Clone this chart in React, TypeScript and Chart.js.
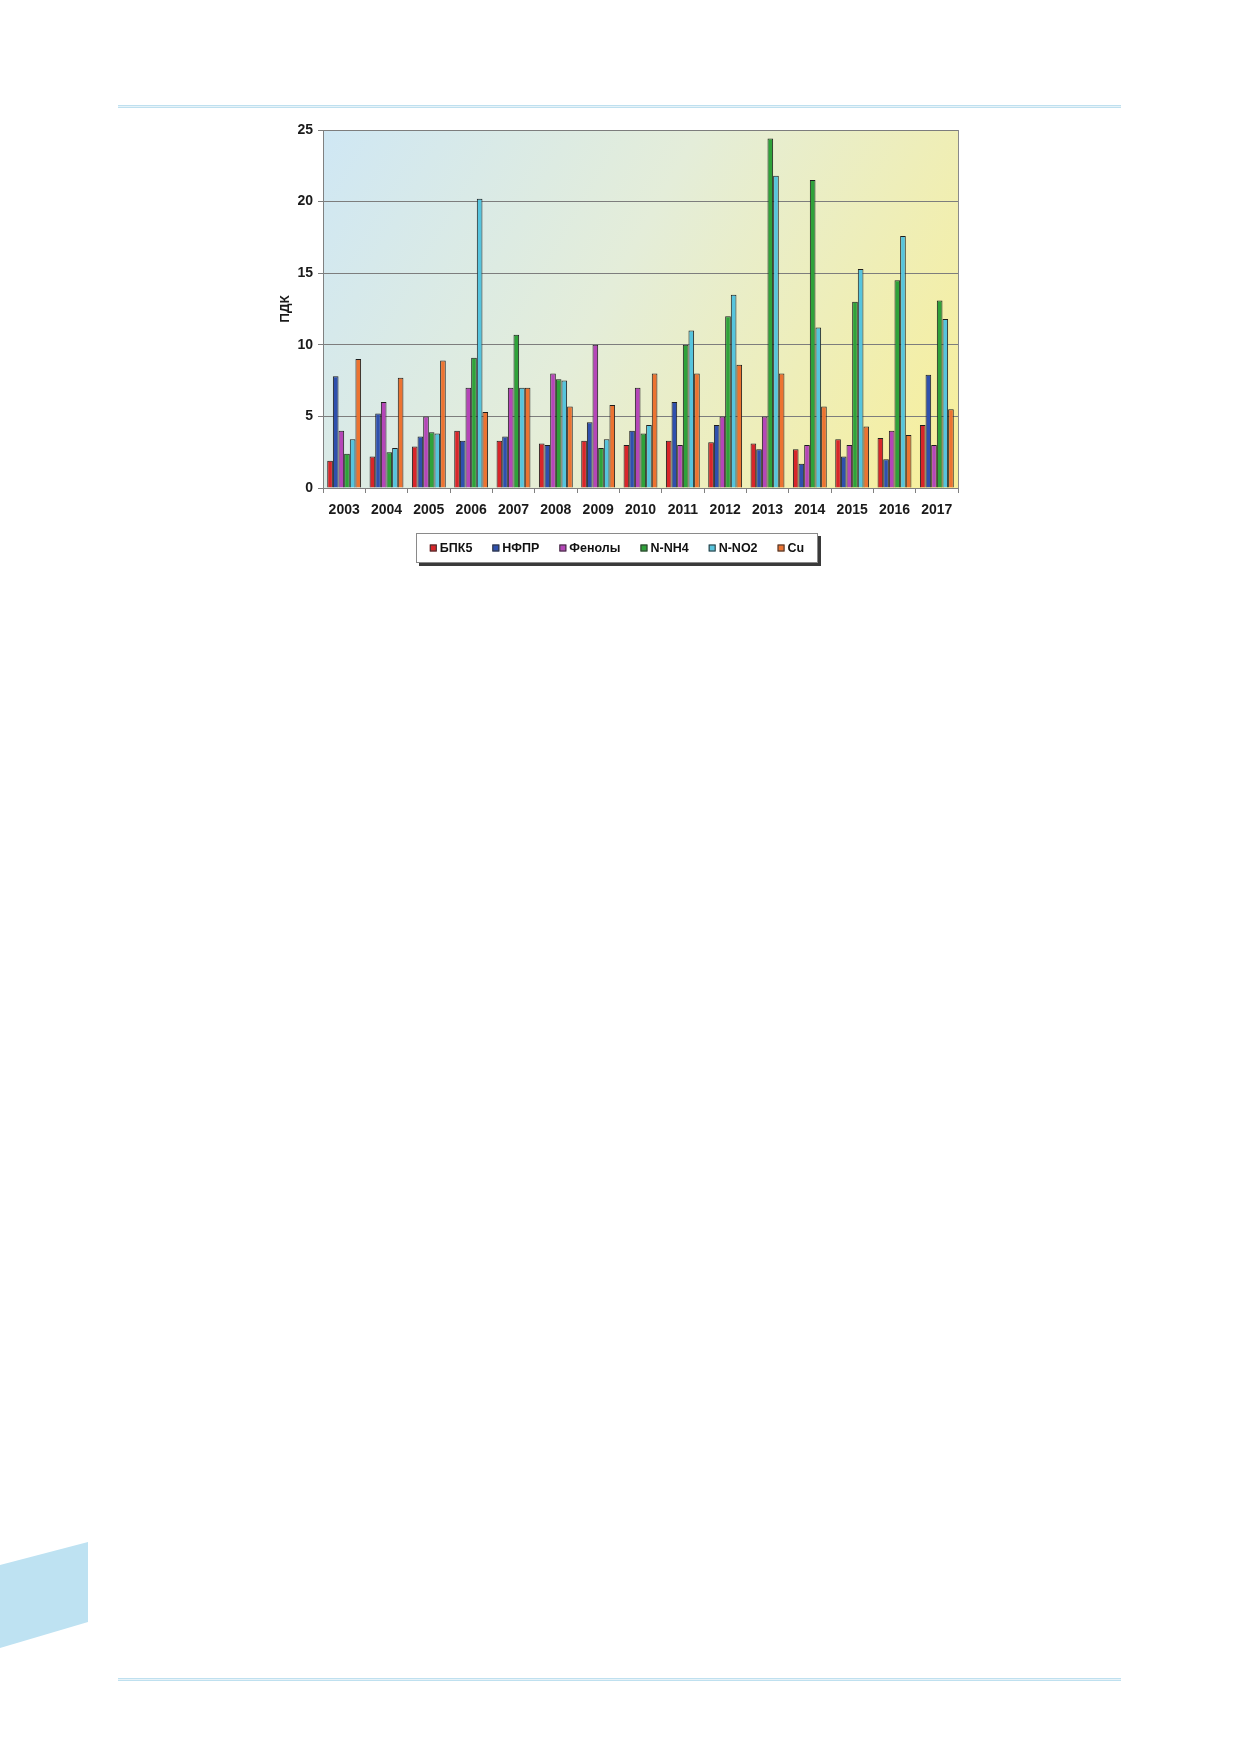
import React, { useEffect, useRef } from "react";
import { Chart, registerables } from "chart.js";

Chart.register(...registerables);

const categories = ["2003", "2004", "2005", "2006", "2007", "2008", "2009", "2010", "2011", "2012", "2013", "2014", "2015", "2016", "2017"];
const seriesNames = ["БПК5", "НФПР", "Фенолы", "N-NH4", "N-NO2", "Cu"];
const bpk5 = [1.9, 2.2, 2.9, 4.0, 3.3, 3.1, 3.3, 3.0, 3.3, 3.2, 3.1, 2.7, 3.4, 3.5, 4.4];
const nfpr = [7.8, 5.2, 3.6, 3.3, 3.6, 3.0, 4.6, 4.0, 6.0, 4.4, 2.7, 1.7, 2.2, 2.0, 7.9];
const phenols = [4.0, 6.0, 5.0, 7.0, 7.0, 8.0, 10.0, 7.0, 3.0, 5.0, 5.0, 3.0, 3.0, 4.0, 3.0];
const nnh4 = [2.4, 2.5, 3.9, 9.1, 10.7, 7.6, 2.8, 3.8, 10.0, 12.0, 24.4, 21.5, 13.0, 14.5, 13.1];
const nno2 = [3.4, 2.8, 3.8, 20.2, 7.0, 7.5, 3.4, 4.4, 11.0, 13.5, 21.8, 11.2, 15.3, 17.6, 11.8];
const cu = [9.0, 7.7, 8.9, 5.3, 7.0, 5.7, 5.8, 8.0, 8.0, 8.6, 8.0, 5.7, 4.3, 3.7, 5.5];
const yAxisTitle = "ПДК";
const yMin = 0;
const yMax = 25;
const yStep = 5;

const seriesValues = [bpk5, nfpr, phenols, nnh4, nno2, cu];
const seriesColors = ["#d8262a", "#2f50ad", "#b546b8", "#2fa23a", "#56c4dd", "#ec7331"];

const FONT = '"Liberation Sans", Arial, sans-serif';

const plotBackground = {
  id: "plotBackground",
  beforeDraw(chart: any) {
    const { ctx, chartArea } = chart;
    const { left, top, right, bottom } = chartArea;
    ctx.save();
    const g = ctx.createLinearGradient(left, top, right, bottom);
    g.addColorStop(0, "#cfe7f4");
    g.addColorStop(0.45, "#e4edd9");
    g.addColorStop(1, "#f8ef9a");
    ctx.fillStyle = g;
    ctx.fillRect(left, top, right - left, bottom - top);
    ctx.strokeStyle = "#8a8a8a";
    ctx.lineWidth = 1;
    ctx.strokeRect(Math.round(left) + 0.5, Math.round(top) + 0.5, Math.round(right - left), Math.round(bottom - top));
    ctx.restore();
  },
};

const boxLegend = {
  id: "boxLegend",
  afterDraw(chart: any) {
    const { ctx } = chart;
    const boxL = 416, boxT = 533, boxW = 402, boxH = 30;
    ctx.save();
    ctx.fillStyle = "#3a3a3a";
    ctx.fillRect(boxL + 3, boxT + 3, boxW, boxH);
    ctx.fillStyle = "#ffffff";
    ctx.fillRect(boxL, boxT, boxW, boxH);
    ctx.strokeStyle = "#8a8a8a";
    ctx.lineWidth = 1;
    ctx.strokeRect(boxL + 0.5, boxT + 0.5, boxW - 1, boxH - 1);
    ctx.font = `bold 12.5px ${FONT}`;
    ctx.textBaseline = "middle";
    const marker = 7, gapM = 3, gapItem = 20;
    const widths = chart.data.datasets.map((d: any) => ctx.measureText(d.label).width);
    const total = widths.reduce((a: number, w: number) => a + marker + gapM + w, 0) + gapItem * (widths.length - 1);
    let x = boxL + boxW / 2 - total / 2;
    const cy = boxT + boxH / 2;
    chart.data.datasets.forEach((d: any, i: number) => {
      ctx.fillStyle = d.backgroundColor;
      ctx.fillRect(x, cy - marker / 2, marker, marker);
      ctx.strokeStyle = "#333";
      ctx.strokeRect(x + 0.5, cy - marker / 2 + 0.5, marker - 1, marker - 1);
      ctx.fillStyle = "#111";
      ctx.textAlign = "left";
      ctx.fillText(d.label, x + marker + gapM, cy + 0.5);
      x += marker + gapM + widths[i] + gapItem;
    });
    ctx.restore();
  },
};

function ChartCanvas() {
  const ref = useRef<HTMLCanvasElement | null>(null);
  useEffect(() => {
    if (!ref.current) return;
    const chart = new Chart(ref.current, {
      type: "bar",
      data: {
        labels: categories,
        datasets: seriesNames.map((name, i) => ({
          label: name,
          data: seriesValues[i],
          backgroundColor: seriesColors[i],
          borderColor: "#1e1e1e",
          borderWidth: 1,
          categoryPercentage: 0.8,
          barPercentage: 1.0,
        })),
      },
      options: {
        animation: false,
        responsive: false,
        maintainAspectRatio: false,
        devicePixelRatio: 1,
        layout: { padding: { left: 250, right: 281, top: 130, bottom: 72 } },
        plugins: {
          legend: { display: false },
          tooltip: { enabled: false },
          title: { display: false },
        },
        scales: {
          x: {
            afterFit: (s: any) => { s.height = 40; },
            grid: { drawOnChartArea: false, drawTicks: true, tickLength: 5, color: "#808080", offset: true },
            border: { color: "#808080" },
            ticks: { color: "#1a1a1a", padding: 9, font: { family: FONT, size: 14, weight: "bold" } },
          },
          y: {
            min: yMin,
            max: yMax,
            afterFit: (s: any) => { s.width = 73; },
            ticks: { stepSize: yStep, color: "#1a1a1a", padding: 5, font: { family: FONT, size: 14, weight: "bold" } },
            grid: { color: "#7d7d7d", tickLength: 5, lineWidth: 1 },
            border: { color: "#808080" },
            title: {
              display: true,
              text: yAxisTitle,
              color: "#1a1a1a",
              padding: { top: 27, bottom: 0 },
              font: { family: FONT, size: 13.5, weight: "bold" },
            },
          },
        },
      } as any,
      plugins: [plotBackground, boxLegend],
    });
    return () => chart.destroy();
  }, []);
  return (
    <canvas
      ref={ref}
      width={1239}
      height={600}
      style={{ position: "absolute", left: 0, top: 0, width: 1239, height: 600 }}
    />
  );
}

export default function App() {
  const lineStyle = (top: number): React.CSSProperties => ({
    position: "absolute",
    left: 118,
    width: 1003,
    top,
    height: 1,
    borderTop: "1px solid #bfe0ef",
    borderBottom: "1px solid #bfe0ef",
    background: "#e6f3f9",
  });
  return (
    <div style={{ position: "absolute", left: 0, top: 0, width: 1239, height: 1752, background: "#ffffff", overflow: "hidden" }}>
      <div style={lineStyle(105)} />
      <div style={lineStyle(1678)} />
      <svg width={1239} height={1752} style={{ position: "absolute", left: 0, top: 0 }}>
        <polygon points="0,1565 88,1542 88,1622 0,1648" fill="#bee2f2" />
      </svg>
      <ChartCanvas />
    </div>
  );
}
